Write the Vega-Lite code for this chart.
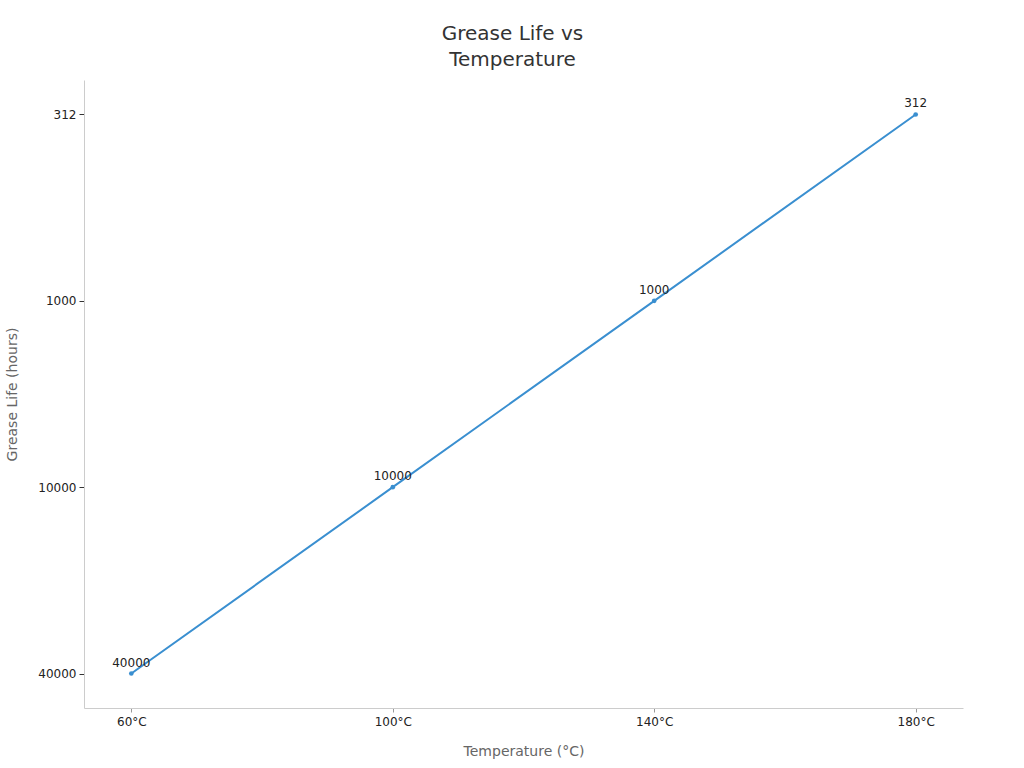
{
  "$schema": "https://vega.github.io/schema/vega-lite/v6.json",
  "width": 879,
  "height": 628,
  "autosize": {"type": "none"},
  "padding": {"left": 84, "top": 80, "right": 61, "bottom": 60},
  "background": "white",
  "title": {
    "text": ["Grease Life vs", "Temperature"],
    "font": "DejaVu Sans",
    "fontSize": 20,
    "fontWeight": "normal",
    "color": "#333333",
    "anchor": "middle",
    "dx": -11,
    "offset": 10,
    "lineHeight": 26
  },
  "data": {
    "values": [
      {"temp": "60°C", "life": "40000"},
      {"temp": "100°C", "life": "10000"},
      {"temp": "140°C", "life": "1000"},
      {"temp": "180°C", "life": "312"}
    ]
  },
  "config": {
    "view": {"stroke": null},
    "font": "DejaVu Sans"
  },
  "encoding": {
    "x": {
      "field": "temp",
      "type": "nominal",
      "sort": ["60°C", "100°C", "140°C", "180°C"],
      "scale": {"type": "point", "padding": 0.181},
      "axis": {
        "title": "Temperature (°C)",
        "titleFont": "DejaVu Sans",
        "titleFontSize": 14,
        "titleFontWeight": "normal",
        "titleColor": "#666666",
        "titlePadding": 17,
        "labelAngle": 0,
        "labelFont": "DejaVu Sans",
        "labelFontSize": 12,
        "labelColor": "#222222",
        "labelPadding": 4,
        "domainColor": "#cccccc",
        "tickColor": "#999999",
        "tickSize": 4,
        "grid": false
      }
    },
    "y": {
      "field": "life",
      "type": "nominal",
      "sort": ["312", "1000", "10000", "40000"],
      "scale": {"type": "point", "padding": 0.185},
      "axis": {
        "title": "Grease Life (hours)",
        "titleFont": "DejaVu Sans",
        "titleFontSize": 14,
        "titleFontWeight": "normal",
        "titleColor": "#666666",
        "titlePadding": 18,
        "labelFont": "DejaVu Sans",
        "labelFontSize": 12,
        "labelColor": "#222222",
        "labelPadding": 3,
        "domainColor": "#cccccc",
        "tickColor": "#333333",
        "tickSize": 5,
        "grid": false
      }
    }
  },
  "layer": [
    {
      "mark": {"type": "line", "color": "#3a8fd0", "strokeWidth": 2}
    },
    {
      "mark": {"type": "point", "filled": true, "color": "#3a8fd0", "size": 22, "opacity": 1}
    },
    {
      "mark": {"type": "text", "dy": -11, "fontSize": 12, "color": "#222222", "font": "DejaVu Sans"},
      "encoding": {"text": {"field": "life"}}
    }
  ]
}
